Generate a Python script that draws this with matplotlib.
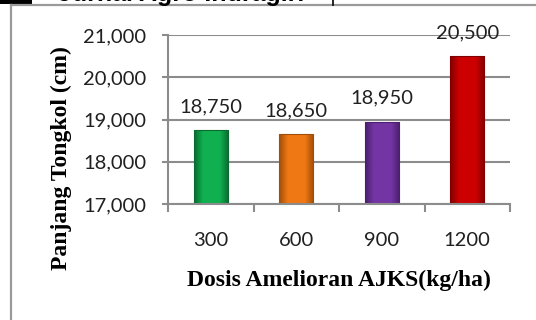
import matplotlib
matplotlib.use('Agg')
import matplotlib.pyplot as plt
import numpy as np
from matplotlib.lines import Line2D
from matplotlib.patches import Rectangle
from matplotlib.colors import LinearSegmentedColormap
from matplotlib.ticker import FuncFormatter, FixedLocator

dosis = ['300', '600', '900', '1200']
panjang = [18750, 18650, 18950, 20500]
warna = ['#10b050', '#f07814', '#7435a4', '#cc0000']
tepi = ['#0a6a30', '#a04e08', '#4a1f6e', '#800000']
y_ticks = [17000, 18000, 19000, 20000, 21000]

W, H = 536, 320
fig = plt.figure(figsize=(W / 100, H / 100), dpi=100)

# bingkai halaman jurnal
fig.add_artist(Rectangle((0, 1 - 4 / H), 32 / W, 4 / H, transform=fig.transFigure,
                         color='black', lw=0))
fig.add_artist(Line2D([11 / W, 11 / W], [0, 1 - 5 / H], transform=fig.transFigure,
                      color='#9a9a9a', lw=1.6))
fig.add_artist(Line2D([11 / W, 1], [1 - 5 / H, 1 - 5 / H], transform=fig.transFigure,
                      color='#9a9a9a', lw=1.6))
fig.add_artist(Line2D([333 / W, 333 / W], [1 - 5 / H, 1], transform=fig.transFigure,
                      color='black', lw=1.2))
fig.text(58 / W, 1 - 1 / H, 'Jurnal Agro Indragiri', fontsize=18, fontweight='bold',
         family='Liberation Sans', va='baseline', ha='left')

ax = fig.add_axes([168 / W, 116 / H, 342 / W, 169 / H])
x = range(len(dosis))
bars = ax.bar(x, panjang, width=0.4, color=warna, edgecolor=tepi, linewidth=0.8, zorder=3)

ax.set_ylim(17000, 21000)
ax.set_xlim(-0.5, len(dosis) - 0.5)

# gradasi mendatar pada tiap batang
for b, c, e in zip(bars, warna, tepi):
    cmap = LinearSegmentedColormap.from_list('g', [e, c, c, c, e])
    x0 = b.get_x()
    img = ax.imshow(np.linspace(0, 1, 64).reshape(1, -1), cmap=cmap, aspect='auto',
                    extent=(x0, x0 + b.get_width(), ax.get_ylim()[0], b.get_height()),
                    zorder=3.5)
    img.set_clip_path(b)
    b.set_facecolor('none')
    b.set_zorder(3.6)

ax.set_ylim(17000, 21000)
ax.set_xlim(-0.5, len(dosis) - 0.5)

for b, v in zip(bars, panjang):
    ax.annotate(f'{v:,}', (b.get_x() + b.get_width() / 2, v), xytext=(0, 17),
                textcoords='offset points', ha='center', va='center',
                fontsize=14.5, family='Lato', color='#202020', zorder=4)

ax.set_yticks(y_ticks)
ax.yaxis.set_major_formatter(FuncFormatter(lambda v, p: f'{int(v):,}'))
ax.set_xticks(list(x))
ax.set_xticklabels(dosis)
ax.xaxis.set_minor_locator(FixedLocator([i - 0.5 for i in range(len(dosis) + 1)]))

grid_c = '#8c8c8c'
ax.grid(axis='y', color=grid_c, lw=1.5, zorder=0)
for s in ['top', 'right']:
    ax.spines[s].set_visible(False)
for s in ['left', 'bottom']:
    ax.spines[s].set_color(grid_c)
    ax.spines[s].set_linewidth(1.5)
    ax.spines[s].set_zorder(5)

ax.tick_params(axis='y', length=4.5, width=1.5, color=grid_c, pad=11,
               labelsize=14.5, labelcolor='#202020')
ax.tick_params(axis='x', which='major', length=0, pad=20, labelsize=14.5,
               labelcolor='#202020')
ax.tick_params(axis='x', which='minor', length=6, width=1.5, color=grid_c)
for t in ax.get_xticklabels() + ax.get_yticklabels():
    t.set_family('Lato')

ax.set_xlabel('Dosis Amelioran AJKS(kg/ha)', family='Liberation Serif', fontweight='bold',
              fontsize=17, labelpad=15)
ax.set_ylabel('Panjang Tongkol (cm)', family='Liberation Serif', fontweight='bold',
              fontsize=17)
ax.yaxis.set_label_coords(-0.28, 0.27)

fig.savefig('out.png', dpi=100)
